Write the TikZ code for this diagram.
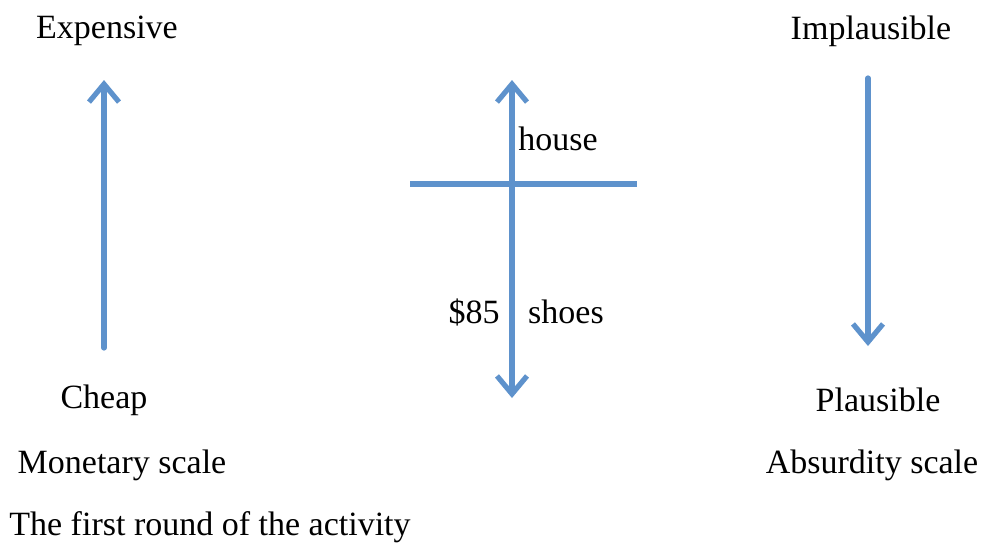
\documentclass[tikz,border=0pt]{standalone}
\usepackage{fontspec}
\setmainfont{Liberation Serif}
\usetikzlibrary{arrows.meta}
\definecolor{scaleblue}{RGB}{94,146,204}
\begin{document}
\begin{tikzpicture}[x=0.5pt,y=-0.5pt,
  lbl/.style={font=\fontsize{17}{20}\selectfont, inner sep=0pt, anchor=center},
  axis/.style={draw=scaleblue, line width=2.6pt, line cap=round, line join=round},
  barb/.tip={Straight Barb[length=9pt,width=15pt,line width=2.6pt]},
  tipped/.style={axis, -barb},
  twotipped/.style={axis, barb-barb}]
\useasboundingbox (0,0) rectangle (982,547);

% monetary scale
\node[lbl] (exp) at (107,31) {Expensive};
\coordinate (mb) at (104,348);
\coordinate (mt) at (104,80);
\draw[tipped] (mb) -- (mt);
\node[lbl] (cheap) at (104,400) {Cheap};
\node[lbl] (mon) at (122,465) {Monetary scale};
\node[lbl] (cap) at (210,527) {The first round of the activity};

% middle axis with cross line
\coordinate (ct) at (512,80);
\coordinate (cb) at (512,398);
\draw[twotipped] (cb) -- (ct);
\coordinate (hl) at (410,184);
\coordinate (hr) at (637,184);
\draw[axis, line cap=butt] (hl) -- (hr);
\node[lbl] (house) at (558,139) {house};
\node[lbl] (price) at (474,312) {\$85};
\node[lbl] (shoes) at (566,312) {shoes};

% absurdity scale
\node[lbl] (impl) at (871,31) {Implausible};
\coordinate (at) at (868,78);
\coordinate (ab) at (868,346);
\draw[tipped] (at) -- (ab);
\node[lbl] (plaus) at (878,400) {Plausible};
\node[lbl] (abs) at (872,465) {Absurdity scale};
\end{tikzpicture}
\end{document}
